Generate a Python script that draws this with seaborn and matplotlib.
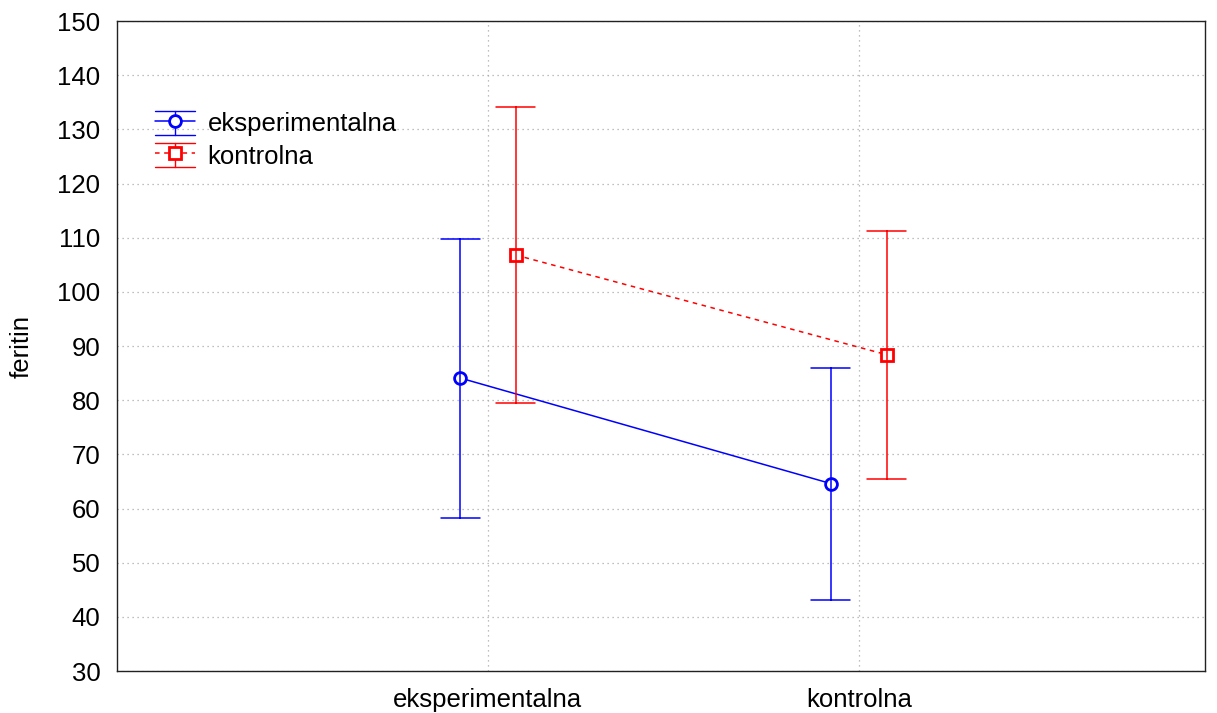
import pandas as pd
import matplotlib.pyplot as plt
import seaborn as sns
from matplotlib.legend_handler import HandlerLine2D
from matplotlib.lines import Line2D

# categories on x and the two series (hue)
groups = ['eksperimentalna', 'kontrolna']
series = ['eksperimentalna', 'kontrolna']

# means and error-bar ends
exp_mean = [84.1, 64.6]
exp_low = [58.3, 43.1]
exp_high = [109.8, 85.9]
kon_mean = [106.8, 88.4]
kon_low = [79.5, 65.5]
kon_high = [134.1, 111.3]

rows = []
for name, lo, mid, hi in [('eksperimentalna', exp_low, exp_mean, exp_high),
                          ('kontrolna', kon_low, kon_mean, kon_high)]:
    for g, a, b, c in zip(groups, lo, mid, hi):
        for v in (a, b, c):
            rows.append({'grupa': g, 'serija': name, 'feritin': v})
df = pd.DataFrame(rows)


# legend key drawn like an error bar: line + marker with a capped vertical bar
class HandlerErrLine(HandlerLine2D):
    def create_artists(self, legend, orig_handle, xdescent, ydescent,
                       width, height, fontsize, trans):
        arts = super().create_artists(legend, orig_handle, xdescent, ydescent,
                                      width, height, fontsize, trans)
        c = orig_handle.get_color()
        x0, x1 = -xdescent, -xdescent + width
        xm = (x0 + x1) / 2
        y0, y1 = -ydescent, -ydescent + height
        extra = [Line2D([xm, xm], [y0, y1], color=c, lw=1),
                 Line2D([x0, x1], [y0, y0], color=c, lw=1),
                 Line2D([x0, x1], [y1, y1], color=c, lw=1)]
        for e in extra:
            e.set_transform(trans)
        return extra + list(arts)


sns.set_style('white')
plt.rcParams['font.family'] = ['Liberation Sans', 'DejaVu Sans']
plt.rcParams['text.color'] = 'black'
plt.rcParams['xtick.color'] = 'black'
plt.rcParams['ytick.color'] = 'black'

fig = plt.figure(figsize=(12.17, 7.13), dpi=100)
ax = fig.add_axes([0.0961, 0.0589, 0.8939, 0.9116])

sns.pointplot(data=df, x='grupa', y='feritin', hue='serija', order=groups,
              hue_order=series, palette={'eksperimentalna': '#0000ff', 'kontrolna': '#ff0000'},
              estimator='median', errorbar=lambda v: (v.min(), v.max()),
              markers=['o', 's'], linestyles=['-', (0, (3, 3))], dodge=0.15,
              capsize=0.105, linewidth=1.1, err_kws={'linewidth': 1.1},
              markersize=8.5, markeredgewidth=2, ax=ax)

for line in ax.lines:
    if line.get_marker() not in ('None', '', None):
        line.set_markerfacecolor('white')

ax.set_xlim(-1.0, 1.933)
ax.set_ylim(30, 150)
ax.set_yticks(range(30, 151, 10))
ax.set_xlabel('')
ax.set_ylabel('feritin', fontsize=18.5, color='black')
ax.yaxis.set_label_coords(-0.077, 0.5)
ax.tick_params(axis='both', direction='in', length=4, labelsize=18.5, width=1,
               color='#333333', labelcolor='black', pad=12)
ax.grid(True, linestyle=(0, (1, 3)), color='#aaaaaa', linewidth=0.9)
for s in ax.spines.values():
    s.set_visible(True)
    s.set_color('#222222')
    s.set_linewidth(1)

handles, labels = ax.get_legend_handles_labels()
for h in handles:
    try:
        h.set_markerfacecolor('white')
    except AttributeError:
        pass
ax.legend(handles, labels, loc='upper left', bbox_to_anchor=(0.035, 0.862),
          frameon=False, fontsize=18.5, handlelength=1.55, handleheight=1.05,
          handletextpad=0.5, labelspacing=0.25, borderpad=0, borderaxespad=0,
          handler_map={Line2D: HandlerErrLine(numpoints=1)})

fig.savefig('out.png', dpi=100)
